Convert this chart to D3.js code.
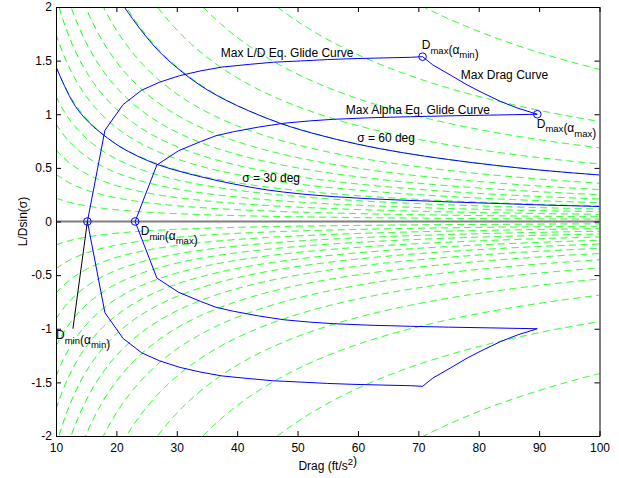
<!DOCTYPE html>
<html>
<head>
<meta charset="utf-8">
<script src="https://cdn.jsdelivr.net/npm/d3@7"></script>
<style>
body { margin: 0; background: #fff; }
text { font-family: "Liberation Sans", Arial, Helvetica, sans-serif; }
</style>
</head>
<body>
<svg width="619" height="478"></svg>
<script>
var svg = d3.select("svg");

// constant bank angle lines (deg), L/D sin(sigma) = K tan(sigma) / D
var bankDeg = [5, 10, 15, 20, 25, 30, 35, 40, 45, 50, 55, 60, 65, 70, 75, 80];
var bankK = 25;

// max L/D equilibrium glide curve
var ldDrag  = [15.2, 18.1, 21.1, 24.2, 27.2, 30.5, 34, 37.5, 42, 46, 50.5, 55, 59, 64, 68.7, 70.7];
var ldRatio = [0, 0.85, 1.09, 1.225, 1.30, 1.36, 1.405, 1.44, 1.465, 1.485, 1.497, 1.51, 1.518, 1.525, 1.531, 1.537];

// max alpha equilibrium glide curve
var alphaDrag  = [23.1, 26.7, 30.3, 33.9, 36.5, 39.4, 43.5, 47.7, 52, 56, 62, 68.7, 75, 82, 89.7];
var alphaRatio = [0, 0.527, 0.66, 0.744, 0.80, 0.837, 0.88, 0.916, 0.938, 0.953, 0.967, 0.977, 0.985, 0.992, 1.0];

// max drag curve
var maxDrag      = [70.7, 72.4, 75.3, 78.1, 80.8, 83.6, 86.4, 89.7];
var maxDragRatio = [1.537, 1.46, 1.366, 1.273, 1.195, 1.12, 1.058, 1.0];

// sigma = 60 deg and sigma = 30 deg
var sig60Drag  = [21.3, 24, 27, 30, 34, 38, 42, 47.4, 53, 60, 67, 75, 83, 91, 100];
var sig60Ratio = [2.0, 1.79, 1.59, 1.435, 1.265, 1.135, 1.03, 0.91, 0.815, 0.72, 0.645, 0.578, 0.522, 0.475, 0.434];
var sig30Drag  = [10, 12.9, 15.6, 17.8, 20.6, 23.5, 26.7, 30, 33.9, 39.4, 44.9, 50.4, 56, 61.5, 67, 75, 83.6, 91, 100];
var sig30Ratio = [1.443, 1.102, 0.916, 0.81, 0.697, 0.61, 0.533, 0.475, 0.418, 0.35, 0.295, 0.258, 0.232, 0.213, 0.2, 0.183, 0.167, 0.153, 0.14];

// endpoints marked with circles
var markDrag  = [15.2, 23.1, 70.7, 89.7];
var markRatio = [0, 0, 1.537, 1.0];

// leader line for Dmin(alpha_min)
var leadDrag  = [15.2, 12.8];
var leadRatio = [0, -1.0];

var xTicks = [10, 20, 30, 40, 50, 60, 70, 80, 90, 100];
var yTicks = [-2, -1.5, -1, -0.5, 0, 0.5, 1, 1.5, 2];

var x = d3.scaleLinear().domain([10, 100]).range([56, 599.5]);
var y = d3.scaleLinear().domain([-2, 2]).range([436, 7]);

var line = d3.line()
	.x(function(d) { return x(d[0]); })
	.y(function(d) { return y(d[1]); });

function pts(xs, ys, sign) {
	return xs.map(function(v, i) { return [v, sign * ys[i]]; });
}

svg.append("rect").attr("width", 619).attr("height", 478).attr("fill", "#fff");

svg.append("clipPath").attr("id", "plot")
	.append("rect")
	.attr("x", x(10)).attr("y", y(2))
	.attr("width", x(100) - x(10)).attr("height", y(-2) - y(2));

var plot = svg.append("g").attr("clip-path", "url(#plot)");

//green dashed bank angle lines, both signs
var grid = d3.range(10, 100.001, 0.1);
[1, -1].forEach(function(sign) {
	bankDeg.forEach(function(b) {
		var c = sign * bankK * Math.tan(b * Math.PI / 180);
		plot.append("path")
			.attr("d", line(grid.map(function(d) { return [d, c / d]; })))
			.attr("fill", "none")
			.attr("stroke", "#00ff00")
			.attr("stroke-width", 1)
			.attr("stroke-dasharray", "7,4.5");
	});
});

//zero line
plot.append("path")
	.attr("d", line([[10, 0], [100, 0]]))
	.attr("stroke", "#7f7f7f")
	.attr("stroke-width", 2);

//blue curves, upper and mirrored lower
var blue = [[ldDrag, ldRatio], [alphaDrag, alphaRatio], [maxDrag, maxDragRatio]];
[1, -1].forEach(function(sign) {
	blue.forEach(function(c) {
		plot.append("path")
			.attr("d", line(pts(c[0], c[1], sign)))
			.attr("fill", "none")
			.attr("stroke", "#0000ff")
			.attr("stroke-width", 1);
	});
});

[[sig60Drag, sig60Ratio], [sig30Drag, sig30Ratio]].forEach(function(c) {
	plot.append("path")
		.attr("d", line.curve(d3.curveMonotoneX)(pts(c[0], c[1], 1)))
		.attr("fill", "none")
		.attr("stroke", "#0000ff")
		.attr("stroke-width", 1);
	line.curve(d3.curveLinear);
});

plot.append("path")
	.attr("d", line(pts(leadDrag, leadRatio, 1)))
	.attr("fill", "none")
	.attr("stroke", "#000")
	.attr("stroke-width", 1);

plot.selectAll(".mark")
	.data(pts(markDrag, markRatio, 1))
	.enter().append("circle")
		.attr("class", "mark")
		.attr("cx", function(d) { return x(d[0]); })
		.attr("cy", function(d) { return y(d[1]); })
		.attr("r", 3.8)
		.attr("fill", "none")
		.attr("stroke", "#0000ff")
		.attr("stroke-width", 1);

//axes box, ticks inside on all four sides
function styleAxis(g) {
	g.selectAll("path, line").attr("stroke", "#000");
	g.selectAll("text")
		.attr("fill", "#000")
		.style("font-size", "12px")
		.style("font-family", "'Liberation Sans', Arial, sans-serif");
}
var fmt = function(d) { return String(d); };

svg.append("g").attr("transform", "translate(0," + y(-2) + ")")
	.call(d3.axisBottom(x).tickValues(xTicks).tickSize(-5).tickSizeOuter(0).tickPadding(7).tickFormat(fmt))
	.call(styleAxis);
svg.append("g").attr("transform", "translate(0," + y(2) + ")")
	.call(d3.axisTop(x).tickValues(xTicks).tickSize(-5).tickSizeOuter(0).tickFormat(""))
	.call(styleAxis);
svg.append("g").attr("transform", "translate(" + x(10) + ",0)")
	.call(d3.axisLeft(y).tickValues(yTicks).tickSize(-5).tickSizeOuter(0).tickPadding(4).tickFormat(fmt))
	.call(styleAxis);
svg.append("g").attr("transform", "translate(" + x(100) + ",0)")
	.call(d3.axisRight(y).tickValues(yTicks).tickSize(-5).tickSizeOuter(0).tickFormat(""))
	.call(styleAxis);

//text with sub/superscripts: parts are [text, shift]
function label(g, parts) {
	parts.forEach(function(p) {
		var shift = p[1] || 0;
		g.append("tspan")
			.attr("dy", shift)
			.style("font-size", shift ? "9.5px" : "12px")
			.text(p[0]);
		if (shift) g.append("tspan").attr("dy", -shift).text("");
	});
	return g;
}

var notes = [
	{x: 37.28, y: 1.534, parts: [["Max L/D Eq. Glide Curve"]]},
	{x: 57.99, y: 1.006, parts: [["Max Alpha Eq. Glide Curve"]]},
	{x: 77.03, y: 1.332, parts: [["Max Drag Curve"]]},
	{x: 59.87, y: 0.741, parts: [["σ = 60 deg"]]},
	{x: 40.84, y: 0.368, parts: [["σ = 30 deg"]]},
	{x: 70.57, y: 1.604, parts: [["D"], ["max", 4.5], ["(α"], ["min", 4.5], [")"]]},
	{x: 89.61, y: 0.872, parts: [["D"], ["max", 4.5], ["(α"], ["max", 4.5], [")"]]},
	{x: 24.04, y: -0.13, parts: [["D"], ["min", 4.5], ["(α"], ["max", 4.5], [")"]]},
	{x: 10.0, y: -1.10, parts: [["D"], ["min", 4.5], ["(α"], ["min", 4.5], [")"]]}
];

notes.forEach(function(n) {
	var t = svg.append("text")
		.attr("x", x(n.x))
		.attr("y", y(n.y))
		.attr("fill", "#000")
		.style("font-size", "12px");
	label(t, n.parts);
});

//axis labels
var xl = svg.append("text")
	.attr("x", (x(10) + x(100)) / 2)
	.attr("y", 470)
	.attr("text-anchor", "middle")
	.style("font-size", "12px");
label(xl, [["Drag (ft/s"], ["2", -5], [")"]]);

svg.append("text")
	.attr("transform", "translate(26.6," + y(0) + ") rotate(-90)")
	.attr("text-anchor", "middle")
	.style("font-size", "12px")
	.text("L/Dsin(σ)");
</script>
</body>
</html>
